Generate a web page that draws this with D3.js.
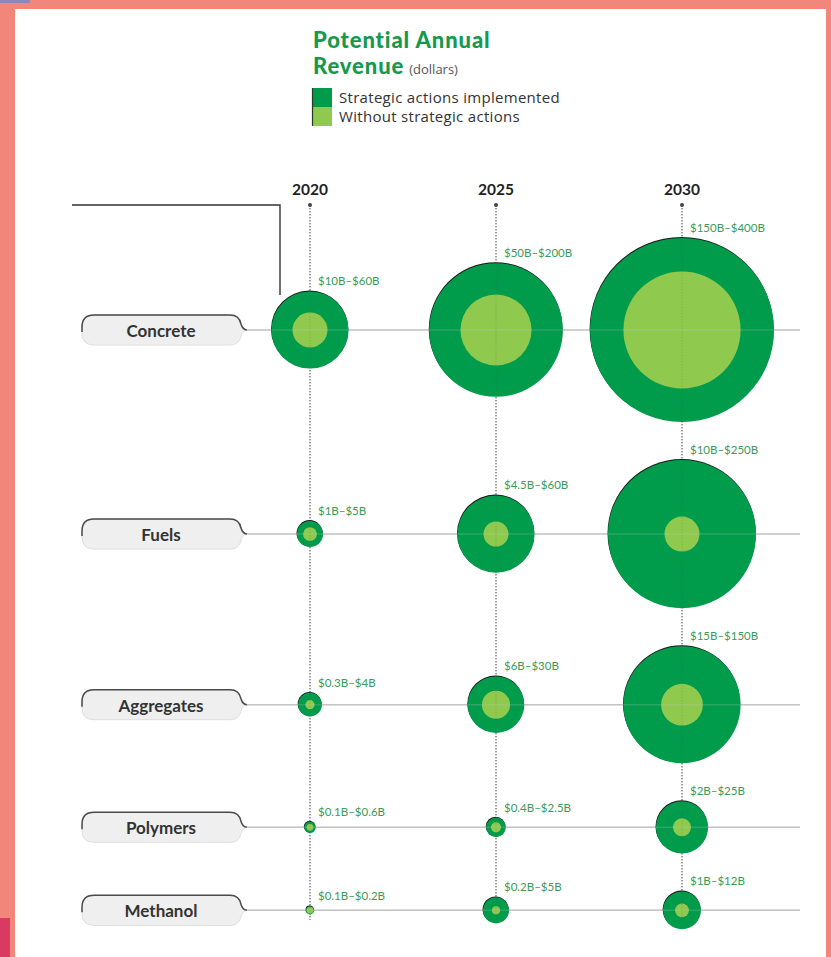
<!DOCTYPE html>
<html><head><meta charset="utf-8">
<script src="https://cdn.jsdelivr.net/npm/d3@7/dist/d3.min.js"></script>
<style>html,body{margin:0;padding:0;background:#f2867a;}svg{display:block;}</style>
</head><body>
<svg id="chart" width="831" height="957"></svg>
<script>
const categories = ["Concrete", "Fuels", "Aggregates", "Polymers", "Methanol"];
const years = ["2020", "2025", "2030"];
// billions of dollars
const withActions = [
  [60, 200, 400],
  [5, 60, 250],
  [4, 30, 150],
  [0.6, 2.5, 25],
  [0.2, 5, 12]
];
const withoutActions = [
  [10, 50, 150],
  [1, 4.5, 10],
  [0.3, 6, 15],
  [0.1, 0.4, 2],
  [0.1, 0.2, 1]
];
const rangeLabels = [
  ["$10B–$60B", "$50B–$200B", "$150B–$400B"],
  ["$1B–$5B", "$4.5B–$60B", "$10B–$250B"],
  ["$0.3B–$4B", "$6B–$30B", "$15B–$150B"],
  ["$0.1B–$0.6B", "$0.4B–$2.5B", "$2B–$25B"],
  ["$0.1B–$0.2B", "$0.2B–$5B", "$1B–$12B"]
];
const legendLabels = ["Strategic actions implemented", "Without strategic actions"];

const DARK = "#009b4b", LIGHT = "#8fca4f", LABEL = "#3b9a58";
const svg = d3.select("#chart");

// panel
svg.append("rect").attr("x", 0).attr("y", 0).attr("width", 831).attr("height", 957).attr("fill", "#f2867a");
svg.append("rect").attr("x", 0).attr("y", 0).attr("width", 30).attr("height", 3).attr("fill", "#8e86b4");
svg.append("rect").attr("x", 0).attr("y", 918).attr("width", 10).attr("height", 39).attr("fill", "#d83a62");
svg.append("rect").attr("x", 15).attr("y", 9).attr("width", 811).attr("height", 948).attr("fill", "#ffffff");

// title
const title = svg.append("g").attr("font-family", "Lato, sans-serif");
title.append("text").attr("x", 313).attr("y", 47.5).attr("font-size", 22).attr("font-weight", 900)
  .attr("letter-spacing", 0.9).attr("fill", "#17994b").text("Potential Annual");
const t2 = title.append("text").attr("x", 313).attr("y", 74).attr("fill", "#17994b");
t2.append("tspan").attr("font-size", 22).attr("font-weight", 900).attr("letter-spacing", 0.9).text("Revenue");
t2.append("tspan").attr("font-size", 13).attr("font-family", "'Open Sans', sans-serif")
  .attr("fill", "#555").attr("dx", 5).text("(dollars)");

const legend = svg.append("g").attr("font-family", "'Open Sans', sans-serif");
legendLabels.forEach((l, i) => {
  legend.append("rect").attr("x", 312).attr("y", 88 + i * 19).attr("width", 20).attr("height", 19)
    .attr("fill", i === 0 ? DARK : LIGHT);
  legend.append("text").attr("x", 339).attr("y", 103 + i * 19).attr("font-size", 15)
    .attr("letter-spacing", 0.3).attr("fill", "#333").text(l);
});
legend.append("line").attr("x1", 312.5).attr("x2", 312.5).attr("y1", 88).attr("y2", 126)
  .attr("stroke", "#2a3a2a").attr("stroke-width", 1.2);

// scales
const x = d3.scalePoint().domain(years).range([310, 682]);
const r = d3.scalePow().exponent(0.47).domain([0, 400]).range([1.5, 92]);

// row layout derived from the largest bubble in each row
const rowGap = 38;
const rowMax = withActions.map(row => r(d3.max(row)));
const rowY = [];
categories.forEach((c, i) => {
  rowY.push(i === 0 ? 330 : rowY[i - 1] + rowMax[i - 1] + rowMax[i] + rowGap);
});
const y = d3.scaleOrdinal().domain(categories).range(rowY);

const lineEnd = 800, pillL = 82, pillR = 240;
const vTop = 205, vBottom = 920;

function drawGrid(g, opacity) {
  g.attr("opacity", opacity);
  g.selectAll("line.h").data(categories).join("line").attr("class", "h")
    .attr("x1", pillR + 6).attr("x2", lineEnd)
    .attr("y1", d => y(d)).attr("y2", d => y(d))
    .attr("stroke", "#c4c4c4").attr("stroke-width", 1.5);
  g.selectAll("line.v").data(years).join("line").attr("class", "v")
    .attr("x1", d => x(d)).attr("x2", d => x(d))
    .attr("y1", vTop).attr("y2", vBottom)
    .attr("stroke", "#555").attr("stroke-width", 1).attr("stroke-dasharray", "1.4,1.6");
}
drawGrid(svg.append("g"), 1);

// year labels
svg.append("g").selectAll("text").data(years).join("text")
  .attr("x", d => x(d)).attr("y", 195).attr("text-anchor", "middle")
  .attr("font-family", "Lato, sans-serif").attr("font-weight", 700).attr("font-size", 15.5)
  .attr("fill", "#222").text(d => d);
svg.append("g").selectAll("circle").data(years).join("circle")
  .attr("cx", d => x(d)).attr("cy", vTop).attr("r", 2).attr("fill", "#444");

// bracket
svg.append("path")
  .attr("d", `M72,${vTop}H280V${y(categories[0]) - 35}`)
  .attr("fill", "none").attr("stroke", "#333").attr("stroke-width", 1.4);

// pills
const pills = svg.append("g");
categories.forEach(c => {
  const cy = y(c), T = cy - 15, B = cy + 15, L = pillL, R = pillR, k = 12;
  const shape = `M${L + k},${T}H${R - 10}C${R - 3},${T} ${R},${T + 4} ${R + 1},${cy - 6}` +
    `Q${R + 2.5},${cy - 0.5} ${R + 7},${cy}Q${R + 2.5},${cy + 0.5} ${R + 1},${cy + 6}` +
    `C${R},${B - 4} ${R - 3},${B} ${R - 10},${B}H${L + k}Q${L},${B} ${L},${B - k}V${T + k}Q${L},${T} ${L + k},${T}Z`;
  pills.append("path").attr("d", shape).attr("fill", "#efefef").attr("stroke", "#dedede").attr("stroke-width", 1);
  const top = `M${L},${cy + 2}V${T + k}Q${L},${T} ${L + k},${T}H${R - 10}C${R - 3},${T} ${R},${T + 4} ${R + 1},${cy - 6}` +
    `Q${R + 2.5},${cy - 0.5} ${R + 7},${cy}`;
  pills.append("path").attr("d", top).attr("fill", "none").attr("stroke", "#4a4a4a").attr("stroke-width", 1.5);
  pills.append("text").attr("x", (L + R) / 2).attr("y", cy + 7).attr("text-anchor", "middle")
    .attr("font-family", "Lato, sans-serif").attr("font-weight", 700).attr("font-size", 17)
    .attr("fill", "#333").text(c);
});

// bubbles
const cells = [];
categories.forEach((c, i) => years.forEach((yr, j) => cells.push({
  cat: c, year: yr, outer: withActions[i][j], inner: withoutActions[i][j], label: rangeLabels[i][j]
})));

const bub = svg.append("g");
bub.selectAll("circle.shadow").data(cells).join("circle").attr("class", "shadow")
  .attr("cx", d => x(d.year) - 0.4).attr("cy", d => y(d.cat) - 0.9).attr("r", d => r(d.outer))
  .attr("fill", "#1b1b1b");
bub.selectAll("circle.outer").data(cells).join("circle").attr("class", "outer")
  .attr("cx", d => x(d.year)).attr("cy", d => y(d.cat)).attr("r", d => r(d.outer))
  .attr("fill", DARK);
bub.selectAll("circle.inner").data(cells).join("circle").attr("class", "inner")
  .attr("cx", d => x(d.year)).attr("cy", d => y(d.cat)).attr("r", d => r(d.inner))
  .attr("fill", LIGHT);

drawGrid(svg.append("g"), 0.22);

svg.append("g").selectAll("text").data(cells).join("text")
  .attr("x", d => x(d.year) + 8).attr("y", d => y(d.cat) - r(d.outer) - 6)
  .attr("font-family", "Lato, sans-serif").attr("font-size", 11.5).attr("fill", LABEL)
  .text(d => d.label);
</script>
</body></html>
